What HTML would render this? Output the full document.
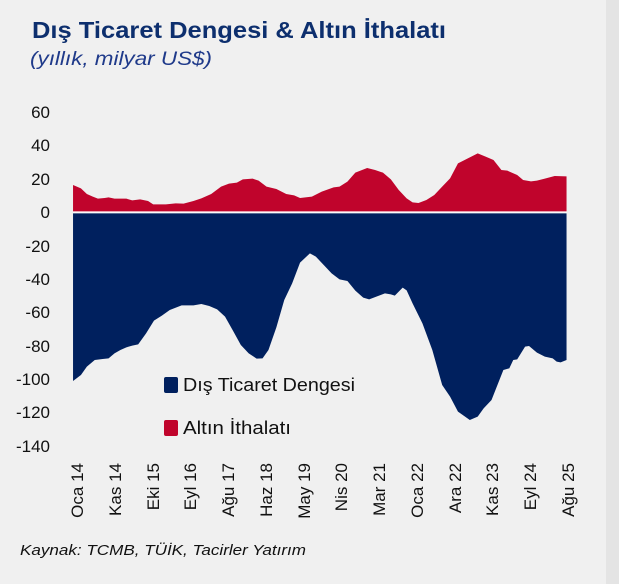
<!DOCTYPE html>
<html><head><meta charset="utf-8"><style>
html,body{margin:0;padding:0;background:#f0f0f0;}
svg{display:block;font-family:"Liberation Sans","DejaVu Sans",sans-serif;}
</style></head><body>
<svg width="619" height="584" viewBox="0 0 619 584" xmlns="http://www.w3.org/2000/svg">
<rect x="0" y="0" width="619" height="584" fill="#f0f0f0"/>
<rect x="606" y="0" width="13" height="584" fill="#e4e4e4"/>
<text x="32" y="38" font-size="23" font-weight="bold" fill="#0d2f6e" textLength="414" lengthAdjust="spacingAndGlyphs">Dış Ticaret Dengesi &amp; Altın İthalatı</text>
<text x="30" y="65" font-size="19" font-style="italic" fill="#1f3a8a" textLength="182" lengthAdjust="spacingAndGlyphs">(yıllık, milyar US$)</text>
<g font-size="17" fill="#111" text-anchor="end">
<text x="50" y="118">60</text>
<text x="50" y="151">40</text>
<text x="50" y="185">20</text>
<text x="50" y="218">0</text>
<text x="50" y="252">-20</text>
<text x="50" y="285">-40</text>
<text x="50" y="318">-60</text>
<text x="50" y="352">-80</text>
<text x="50" y="385">-100</text>
<text x="50" y="418">-120</text>
<text x="50" y="452">-140</text>
</g>
<g transform="translate(0,90) scale(0.3948,0.3333)">
<polygon fill="#c0042c" points="185,365 185,285 205,295 220,312 235,320 248,326 265,324 275,322 290,326 320,326 335,331 355,328 375,333 388,343 420,343 445,340 465,341 490,333 510,325 535,312 560,290 580,281 600,278 615,268 640,266 655,272 675,290 700,297 725,312 745,316 760,324 790,320 815,305 845,292 860,290 880,275 900,248 930,234 950,240 970,248 990,268 1010,300 1030,325 1045,337 1060,339 1080,330 1100,315 1120,290 1140,265 1160,220 1185,205 1210,190 1230,200 1250,210 1270,240 1285,242 1310,255 1325,270 1345,274 1360,272 1380,266 1405,258 1435,259 1435,365"/>
</g>
<g transform="translate(0,250) scale(0.3948,0.3333)">
<polygon fill="#00205e" points="185,-110 185,393 205,375 220,350 240,330 260,327 275,325 290,310 305,300 320,292 335,287 350,283 370,250 390,212 410,197 430,180 460,166 490,166 510,162 530,168 550,178 570,200 590,242 610,285 630,310 650,326 665,325 680,300 700,232 720,150 740,100 760,38 785,10 800,20 820,45 840,70 860,88 880,93 900,122 920,143 935,148 960,137 975,130 990,133 1000,137 1020,113 1030,121 1045,160 1070,220 1095,300 1120,405 1140,440 1160,485 1190,510 1210,500 1225,475 1245,450 1265,390 1275,360 1290,355 1300,330 1310,328 1330,290 1340,288 1360,308 1380,320 1400,325 1410,335 1420,337 1435,330 1435,-110"/>
</g>
<line x1="73" y1="212" x2="567" y2="212" stroke="#ffffff" stroke-width="1.2"/>
<rect x="164" y="377" width="14" height="16" rx="2" fill="#00205e"/>
<text x="183" y="391" font-size="18" fill="#111" textLength="172" lengthAdjust="spacingAndGlyphs">Dış Ticaret Dengesi</text>
<rect x="164" y="420" width="14" height="16" rx="2" fill="#c0042c"/>
<text x="183" y="434" font-size="18" fill="#111" textLength="108" lengthAdjust="spacingAndGlyphs">Altın İthalatı</text>
<g font-size="17" fill="#111" text-anchor="end">
<text transform="translate(77,463) rotate(-90)" dy="6">Oca 14</text>
<text transform="translate(115,463) rotate(-90)" dy="6">Kas 14</text>
<text transform="translate(153,463) rotate(-90)" dy="6">Eki 15</text>
<text transform="translate(190,463) rotate(-90)" dy="6">Eyl 16</text>
<text transform="translate(228,463) rotate(-90)" dy="6">Ağu 17</text>
<text transform="translate(266,463) rotate(-90)" dy="6">Haz 18</text>
<text transform="translate(304,463) rotate(-90)" dy="6">May 19</text>
<text transform="translate(341,463) rotate(-90)" dy="6">Nis 20</text>
<text transform="translate(379,463) rotate(-90)" dy="6">Mar 21</text>
<text transform="translate(417,463) rotate(-90)" dy="6">Oca 22</text>
<text transform="translate(455,463) rotate(-90)" dy="6">Ara 22</text>
<text transform="translate(492,463) rotate(-90)" dy="6">Kas 23</text>
<text transform="translate(530,463) rotate(-90)" dy="6">Eyl 24</text>
<text transform="translate(568,463) rotate(-90)" dy="6">Ağu 25</text>
</g>
<text x="20" y="555" font-size="15" font-style="italic" fill="#111" textLength="286" lengthAdjust="spacingAndGlyphs">Kaynak: TCMB, TÜİK, Tacirler Yatırım</text>
</svg>
</body></html>
